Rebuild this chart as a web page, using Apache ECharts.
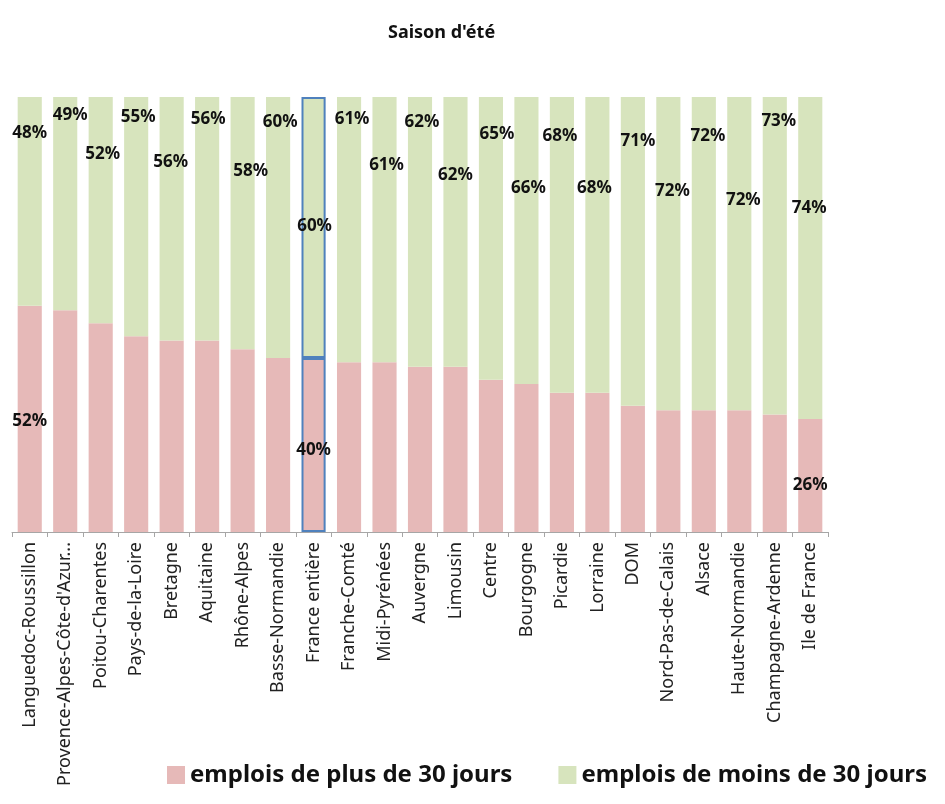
<!DOCTYPE html>
<html>
<head>
<meta charset="utf-8">
<script src="https://cdn.jsdelivr.net/npm/echarts@6/dist/echarts.min.js"></script>
<style>
  html, body { margin: 0; padding: 0; background: #fff; }
  #chart { width: 945px; height: 804px; }
</style>
</head>
<body>
<div id="chart"></div>
<script>
// catégories (régions)
const regions = [
  'Languedoc-Roussillon', "Provence-Alpes-Côte-d'Azur-Corse", 'Poitou-Charentes', 'Pays-de-la-Loire',
  'Bretagne', 'Aquitaine', 'Rhône-Alpes', 'Basse-Normandie', 'France entière', 'Franche-Comté',
  'Midi-Pyrénées', 'Auvergne', 'Limousin', 'Centre', 'Bourgogne', 'Picardie', 'Lorraine', 'DOM',
  'Nord-Pas-de-Calais', 'Alsace', 'Haute-Normandie', 'Champagne-Ardenne', 'Ile de France'
]
// part des emplois de moins de 30 jours (%)
const moins30 = [48, 49, 52, 55, 56, 56, 58, 60, 60, 61, 61, 62, 62, 65, 66, 68, 68, 71, 72, 72, 72, 73, 74]
// part des emplois de plus de 30 jours (%)
const plus30 = [52, 51, 48, 45, 44, 44, 42, 40, 40, 39, 39, 38, 38, 35, 34, 32, 32, 29, 28, 28, 28, 27, 26]
// étiquettes affichées sur la série "plus de 30 jours"
const plusLabelShown = [0, 8, 22]
const highlightIndex = 8

// placement manuel des étiquettes (comme dans le graphique d'origine)
const moinsLabelDx = [0, 5, 2, 2, -1, 1, 8, 2, 1, 3, 2, 2, 0, 6, 2, -2, -3, 5, 4, 4, 4, 4, -1]
const moinsLabelDy = [36, 18, 57, 20, 65, 22, 74, 25, 129, 22, 68, 25, 78, 37, 91, 39, 91, 44, 94, 39, 103, 24, 111]
const plusLabelDy = { 0: 115, 8: 92, 22: 66 }

const labelFont = {
  color: '#111',
  fontSize: 17,
  fontWeight: 'bold',
  fontFamily: 'Noto Sans',
  align: 'center',
  verticalAlign: 'middle',
  formatter: '{c}%',
}

const highlight = { borderColor: '#4f81bd', borderWidth: 2 }

const moinsData = moins30.map((v, i) => {
  const item = {
    value: v,
    label: { show: true, position: ['50%', moinsLabelDy[i]], offset: [moinsLabelDx[i], 0] },
  }
  if (i === highlightIndex) item.itemStyle = highlight
  return item
})

const plusData = plus30.map((v, i) => {
  const item = { value: v }
  if (plusLabelShown.indexOf(i) >= 0) {
    item.label = { show: true, position: ['50%', plusLabelDy[i]] }
  }
  if (i === highlightIndex) item.itemStyle = highlight
  return item
})

const myChart = echarts.init(document.getElementById('chart'))

const option = {
  backgroundColor: '#fff',
  title: {
    text: "Saison d'été",
    left: 383,
    top: 19,
    textStyle: {
      fontFamily: 'Noto Sans',
      fontSize: 18,
      fontWeight: 'bold',
      color: '#111',
    },
  },
  legend: {
    bottom: 12,
    left: 162,
    itemWidth: 18,
    itemHeight: 18,
    itemGap: 46,
    icon: 'rect',
    textStyle: {
      fontFamily: 'Noto Sans',
      fontSize: 24,
      fontWeight: 'bold',
      color: '#111',
    },
    data: ['emplois de plus de 30 jours', 'emplois de moins de 30 jours'],
  },
  grid: {
    left: 12,
    right: 117,
    top: 97,
    bottom: 272,
  },
  xAxis: {
    type: 'category',
    data: regions,
    axisLine: { lineStyle: { color: '#a6a6a6' } },
    axisTick: { show: true, length: 5, lineStyle: { color: '#a6a6a6' } },
    axisLabel: {
      rotate: 90,
      interval: 0,
      color: '#222',
      fontSize: 18,
      fontFamily: 'Noto Sans',
      margin: 10,
      width: 256,
      overflow: 'truncate',
      ellipsis: '...',
    },
  },
  yAxis: {
    type: 'value',
    min: 0,
    max: 100,
    show: false,
    splitLine: { show: false },
  },
  series: [
    {
      name: 'emplois de plus de 30 jours',
      type: 'bar',
      stack: 'total',
      barCategoryGap: '32%',
      itemStyle: { color: '#e6b9b8' },
      label: Object.assign({ show: false }, labelFont),
      data: plusData,
    },
    {
      name: 'emplois de moins de 30 jours',
      type: 'bar',
      stack: 'total',
      barCategoryGap: '32%',
      itemStyle: { color: '#d7e4bd' },
      label: Object.assign({ show: true }, labelFont),
      data: moinsData,
    },
  ],
}

myChart.setOption(option)
</script>
</body>
</html>
